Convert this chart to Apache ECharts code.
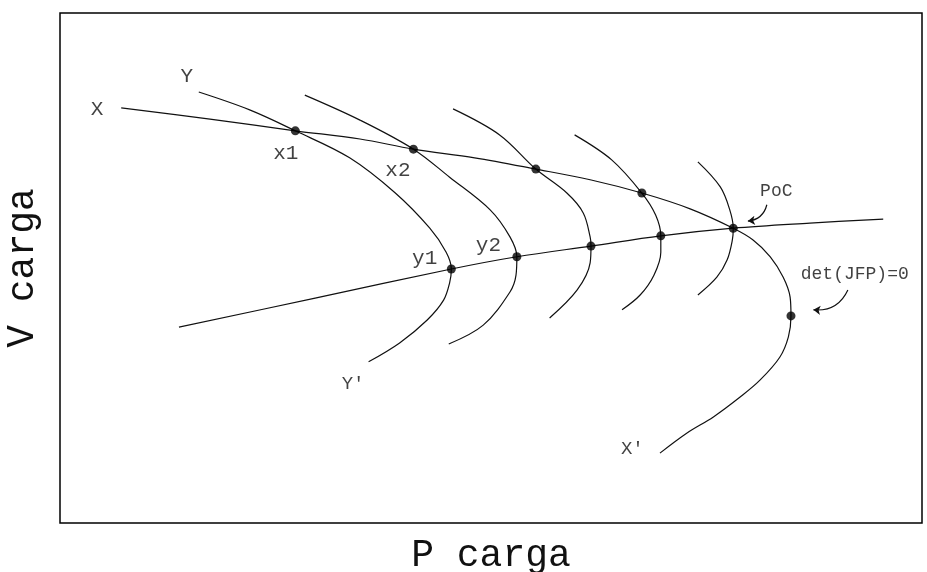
<!DOCTYPE html>
<html>
<head>
<meta charset="utf-8">
<script src="https://cdn.jsdelivr.net/npm/echarts@6/dist/echarts.min.js"></script>
<style>
  html, body { margin: 0; padding: 0; background: #fff; }
  #chart { width: 927px; height: 572px; }
</style>
</head>
<body>
<div id="chart"></div>
<script>
// Main P-V curve X -> X' (nose at the saddle-node point)
const curveX = [[7.1,81.4],[17.4,79.2],[27.3,76.9],[34.8,75.3],[41.0,73.3],[48.1,71.6],[55.2,69.4],[61.5,67.3],[67.5,64.7],[73.1,61.6],[78.1,57.8],[80.4,55.5],[82.4,52.2],[83.9,48.2],[84.7,44.3],[84.8,40.6],[84.5,36.5],[83.5,32.5],[81.2,28.0],[78.9,24.7],[75.8,20.8],[72.7,17.6],[69.6,13.7]];
// Lower-branch trajectory through y1, y2, ...
const curveY = [[13.8,38.4],[29.6,44.1],[45.4,49.8],[53.0,52.2],[61.6,54.3],[69.7,56.3],[78.1,57.8],[87.0,58.8],[95.5,59.6]];
// Family of intermediate P-V arcs (Y -> Y' first)
const arc1 = [[16.1,84.5],[22.0,81.0],[27.3,76.9],[33.6,71.6],[38.9,64.7],[42.9,57.8],[44.8,53.1],[45.4,49.8],[45.2,47.1],[44.5,43.7],[42.6,39.8],[39.4,35.3],[35.8,31.6]];
const arc2 = [[28.4,83.9],[34.8,79.0],[41.0,73.3],[45.2,67.8],[49.9,61.4],[52.2,56.1],[53.0,52.2],[52.9,48.6],[52.2,45.3],[49.1,38.8],[45.1,35.1]];
const arc3 = [[45.6,81.2],[51.0,76.1],[55.2,69.4],[58.8,64.7],[60.7,60.8],[61.5,56.1],[61.6,54.3],[61.5,51.0],[60.0,45.7],[56.8,40.2]];
const arc4 = [[59.7,76.1],[64.0,71.2],[67.5,64.7],[69.1,60.4],[69.7,56.3],[69.7,53.1],[68.9,48.6],[67.3,44.7],[65.2,41.8]];
const arc5 = [[74.0,70.8],[76.6,65.9],[77.7,61.4],[78.1,57.8],[78.0,55.5],[77.4,51.6],[76.2,48.2],[74.0,44.7]];
// Marked operating points
const markedPoints = [[27.3,76.9],[41.0,73.3],[55.2,69.4],[67.5,64.7],[78.1,57.8],[45.4,49.8],[53.0,52.2],[61.6,54.3],[69.7,56.3],[84.8,40.6]];
// Annotations
const labelNames = ['X','Y','x1','x2','y1','y2',"Y'","X'",'PoC','det(JFP)=0'];
const labelPos = [[4.3,81.0],[14.7,87.5],[26.2,72.5],[39.2,69.2],[42.3,51.8],[49.7,54.5],[34.0,27.3],[66.4,14.5],[83.1,65.1],[92.2,48.8]];
const labelSizes = [21,21,21,21,21,21,19,19,18,18];
// Pointer arrows (from, to)
const arrows = [
  [[82.0,62.4],[79.8,59.2]],
  [[91.4,45.7],[87.4,41.8]]
];

const FONT = "'Liberation Mono', 'DejaVu Sans Mono', monospace";
const INK = '#111';

function curve(data) {
  return {
    type: 'line', data: data, smooth: 0.35, showSymbol: false, symbol: 'none',
    lineStyle: { color: INK, width: 1.2 }, silent: true, z: 2
  };
}

const chart = echarts.init(document.getElementById('chart'), null, { renderer: 'canvas' });
chart.setOption({
  animation: false,
  backgroundColor: '#fff',
  grid: {
    left: 60, top: 13, width: 862, height: 510, containLabel: false, outerBoundsMode: 'none',
    show: true, borderColor: '#000', borderWidth: 1.5, backgroundColor: 'transparent'
  },
  xAxis: {
    type: 'value', min: 0, max: 100,
    name: 'P carga', nameLocation: 'middle', nameGap: 14,
    nameTextStyle: { fontFamily: FONT, fontSize: 38, color: '#111', verticalAlign: 'top' },
    axisLine: { show: false }, axisTick: { show: false }, axisLabel: { show: false }, splitLine: { show: false }
  },
  yAxis: {
    type: 'value', min: 0, max: 100,
    name: 'V carga', nameLocation: 'middle', nameGap: 18,
    nameTextStyle: { fontFamily: FONT, fontSize: 38, color: '#111' },
    axisLine: { show: false }, axisTick: { show: false }, axisLabel: { show: false }, splitLine: { show: false }
  },
  series: [
    curve(curveX), curve(curveY), curve(arc1), curve(arc2), curve(arc3), curve(arc4), curve(arc5),
    {
      type: 'scatter', data: markedPoints, symbolSize: 9,
      itemStyle: { color: '#000' }, silent: true, z: 5
    },
    {
      type: 'scatter', symbolSize: 1, itemStyle: { color: 'rgba(0,0,0,0)' }, silent: true, z: 6,
      data: labelNames.map((n, i) => ({
        value: labelPos[i], name: n,
        label: { show: true, position: 'inside', formatter: n, fontFamily: FONT, fontSize: labelSizes[i], color: '#111' }
      }))
    },
    {
      type: 'lines', coordinateSystem: 'cartesian2d', silent: true, z: 4,
      symbol: ['none', 'arrow'], symbolSize: 7,
      lineStyle: { color: INK, width: 1.2, curveness: 0.35, opacity: 1 },
      data: arrows.map(a => ({ coords: a }))
    }
  ]
});
</script>
</body>
</html>
